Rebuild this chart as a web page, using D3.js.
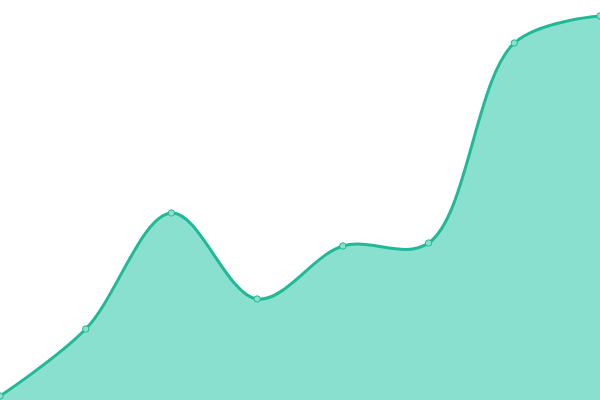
<!DOCTYPE html>
<html>
<head>
<meta charset="utf-8">
<script src="https://cdn.jsdelivr.net/npm/d3@7"></script>
<style>
  html, body { margin: 0; padding: 0; background: #fff; }
  svg { display: block; }
</style>
</head>
<body>
<svg id="chart" width="600" height="400"></svg>
<script>
// data
const categories = ['A', 'B', 'C', 'D', 'E', 'F', 'G', 'H'];
const values = [4, 71, 187, 101, 154, 157, 357, 384];

const width = 600, height = 400;
const lineColor = '#1fb996';
const areaColor = '#89e0cf';

const svg = d3.select('#chart');

const x = d3.scalePoint(categories, [0, width]);
const y = d3.scaleLinear([0, 400], [height, 0]);

const curve = d3.curveCatmullRom.alpha(0.5);

svg.append('path')
  .datum(values)
  .attr('fill', areaColor)
  .attr('d', d3.area()
    .x((d, i) => x(categories[i]))
    .y0(y(0))
    .y1(d => y(d))
    .curve(curve));

svg.append('path')
  .datum(values)
  .attr('fill', 'none')
  .attr('stroke', lineColor)
  .attr('stroke-width', 3)
  .attr('d', d3.line()
    .x((d, i) => x(categories[i]))
    .y(d => y(d))
    .curve(curve));

svg.append('g')
  .selectAll('circle')
  .data(values)
  .join('circle')
    .attr('cx', (d, i) => x(categories[i]))
    .attr('cy', d => y(d))
    .attr('r', 3.2)
    .attr('fill', areaColor)
    .attr('stroke', lineColor)
    .attr('stroke-width', 1);
</script>
</body>
</html>
